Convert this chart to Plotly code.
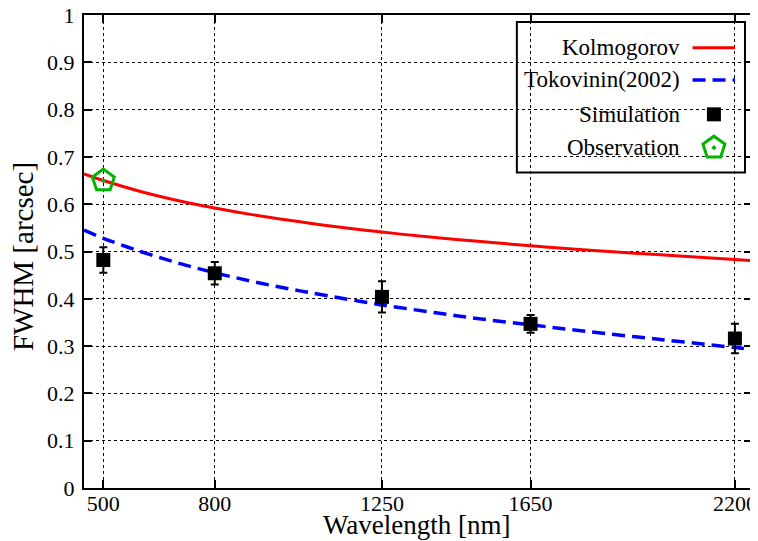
import plotly.graph_objects as go

# ---- data ----
kol_x = [448, 500, 600, 700, 800, 900, 1000, 1100, 1250, 1400, 1500, 1650, 1800, 2000, 2200, 2246]
kol_y = [0.664, 0.650, 0.627, 0.608, 0.592, 0.578, 0.566, 0.555, 0.541, 0.529, 0.522, 0.512,
         0.503, 0.493, 0.483, 0.481]

tok_x = [448, 500, 600, 700, 800, 900, 1000, 1100, 1250, 1400, 1500, 1650, 1800, 2000, 2200, 2246]
tok_y = [0.545, 0.528, 0.500, 0.476, 0.455, 0.437, 0.421, 0.407, 0.387, 0.370, 0.359, 0.345,
         0.331, 0.314, 0.297, 0.293]

sim_x = [500, 800, 1250, 1650, 2200]
sim_y = [0.482, 0.454, 0.404, 0.347, 0.316]
sim_err = [0.027, 0.024, 0.033, 0.019, 0.031]

obs_x = [500]
obs_y = [0.650]

x_ticks = [500, 800, 1250, 1650, 2200]
y_ticks = [0, 0.1, 0.2, 0.3, 0.4, 0.5, 0.6, 0.7, 0.8, 0.9, 1]
y_tick_text = ["0", "0.1", "0.2", "0.3", "0.4", "0.5", "0.6", "0.7", "0.8", "0.9", "1"]

legend_names = ["Kolmogorov", "Tokovinin(2002)", "Simulation", "Observation"]

FONT = "Liberation Serif"

fig = go.Figure()

fig.add_trace(go.Scatter(x=kol_x, y=kol_y, mode="lines", line=dict(color="#ff0000", width=3, shape="spline"),
                         showlegend=False, hoverinfo="skip"))
fig.add_trace(go.Scatter(x=tok_x, y=tok_y, mode="lines",
                         line=dict(color="#0000ff", width=3.5, shape="spline", dash="13px,7px"),
                         showlegend=False, hoverinfo="skip"))
fig.add_trace(go.Scatter(x=sim_x, y=sim_y, mode="markers",
                         marker=dict(symbol="square", size=14, color="black"),
                         error_y=dict(type="data", array=sim_err, color="black", thickness=2, width=4),
                         showlegend=False))
fig.add_trace(go.Scatter(x=obs_x, y=obs_y, mode="markers",
                         marker=dict(symbol="pentagon-open-dot", size=23, color="#00b400",
                                     line=dict(width=3, color="#00b400")),
                         showlegend=False))

# ---- custom legend (text right-aligned, symbol on the right like the reference) ----
row_y = [0.931, 0.8626, 0.790, 0.7195]
text_x = 0.8957
sym_x0, sym_x1, sym_xc = 0.911, 0.9746, 0.943

fig.add_shape(type="rect", xref="paper", yref="paper", x0=0.648, x1=0.9895, y0=0.667, y1=0.985,
              line=dict(color="black", width=2), fillcolor="white", layer="between")
for name, yy in zip(legend_names, row_y):
    fig.add_annotation(xref="paper", yref="paper", x=text_x, y=yy, text=name, showarrow=False,
                       xanchor="right", yanchor="middle", font=dict(family=FONT, size=23, color="black"))
fig.add_shape(type="line", xref="paper", yref="paper", x0=sym_x0, x1=sym_x1, y0=row_y[0], y1=row_y[0],
              line=dict(color="#ff0000", width=3), layer="above")
fig.add_shape(type="line", xref="paper", yref="paper", x0=sym_x0, x1=sym_x1, y0=row_y[1], y1=row_y[1],
              line=dict(color="#0000ff", width=3.5, dash="13px,7px"), layer="above")
fig.add_trace(go.Scatter(x=[sym_xc], y=[row_y[2]], xaxis="x2", yaxis="y2", mode="markers",
                         marker=dict(symbol="square", size=14, color="black"), showlegend=False, hoverinfo="skip"))
fig.add_trace(go.Scatter(x=[sym_xc], y=[row_y[3]], xaxis="x2", yaxis="y2", mode="markers",
                         marker=dict(symbol="pentagon-open-dot", size=23, color="#00b400",
                                     line=dict(width=3, color="#00b400")),
                         showlegend=False, hoverinfo="skip"))

# axis titles as annotations for exact placement
fig.add_annotation(xref="paper", yref="paper", x=0.4985, y=-0.078, text="Wavelength [nm]", showarrow=False,
                   xanchor="center", yanchor="middle", font=dict(family=FONT, size=27, color="black"))
fig.add_annotation(xref="paper", yref="paper", x=-0.0915, y=0.49, text="FWHM [arcsec]", showarrow=False,
                   textangle=-90, xanchor="center", yanchor="middle",
                   font=dict(family=FONT, size=29, color="black"))

axis_common = dict(showline=True, linecolor="black", linewidth=2, mirror="ticks",
                   ticks="inside", ticklen=8, tickwidth=1.5, tickcolor="black",
                   showgrid=True, gridcolor="black", gridwidth=1, griddash="dot",
                   zeroline=False, automargin=False, ticklabeloverflow="allow",
                   tickfont=dict(family=FONT, size=22, color="black"))

# the page body adds an 8px offset, so the figure is smaller with matching margins
fig.update_layout(
    width=750, height=533,
    margin=dict(l=76, r=6, t=7, b=53),
    paper_bgcolor="white", plot_bgcolor="white",
    showlegend=False,
    font=dict(family=FONT),
    xaxis=dict(range=[448, 2246], tickvals=x_ticks, ticktext=[str(v) for v in x_ticks],
               ticklabelstandoff=-5, **axis_common),
    yaxis=dict(range=[0, 1], tickvals=y_ticks, ticktext=y_tick_text,
               ticklabelstandoff=3, **axis_common),
    xaxis2=dict(overlaying="x", range=[0, 1], visible=False, anchor="y2"),
    yaxis2=dict(overlaying="y", range=[0, 1], visible=False, anchor="x2"),
)

fig.write_html("out.html")
